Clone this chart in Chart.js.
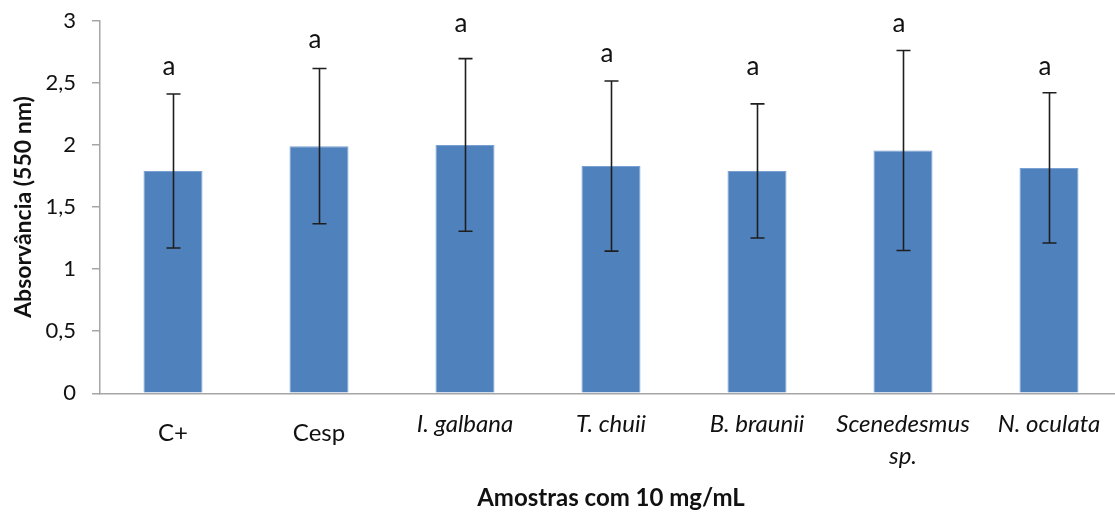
<!DOCTYPE html>
<html>
<head>
<meta charset="utf-8">
<script src="https://cdn.jsdelivr.net/npm/chart.js@4"></script>
<style>
  html, body { margin: 0; padding: 0; background: #fff; overflow: hidden; }
  canvas { display: block; }
</style>
</head>
<body>
<canvas id="chart" width="1122" height="514"></canvas>
<script>
// Sample groups (species names in italics from the third entry on)
const categories = ['C+', 'Cesp', 'I. galbana', 'T. chuii', 'B. braunii', ['Scenedesmus', 'sp.'], 'N. oculata'];
// Mean absorbance at 550 nm
const means = [1.79, 1.99, 2.00, 1.83, 1.79, 1.955, 1.815];
// Standard deviation (error bar half-length)
const sds = [0.62, 0.625, 0.695, 0.685, 0.54, 0.805, 0.605];
// Statistical group letters and the absorbance level they sit at
const letters = ['a', 'a', 'a', 'a', 'a', 'a', 'a'];
const letterAt = [2.62, 2.84, 2.965, 2.72, 2.62, 2.965, 2.62];
// Y axis ticks
const yTicks = [0, 0.5, 1, 1.5, 2, 2.5, 3];

const FONT = 'Lato';
const AXIS_GREY = '#a6a6a6';

const errorBarsAndLetters = {
  id: 'errorBarsAndLetters',
  afterDatasetsDraw(chart) {
    const { ctx, scales: { y } } = chart;
    const meta = chart.getDatasetMeta(0);
    ctx.save();
    meta.data.forEach((bar, i) => {
      const cx = Math.round(bar.x) + 0.5;
      const top = y.getPixelForValue(means[i] + sds[i]);
      const bot = y.getPixelForValue(means[i] - sds[i]);
      ctx.strokeStyle = '#1e1e1e';
      ctx.lineWidth = 1.6;
      ctx.beginPath();
      ctx.moveTo(cx, top); ctx.lineTo(cx, bot);
      ctx.moveTo(cx - 7, top); ctx.lineTo(cx + 7, top);
      ctx.moveTo(cx - 7, bot); ctx.lineTo(cx + 7, bot);
      ctx.stroke();

      ctx.fillStyle = '#111';
      ctx.font = '26px ' + FONT;
      ctx.textAlign = 'center';
      ctx.textBaseline = 'alphabetic';
      ctx.fillText(letters[i], bar.x - 4, y.getPixelForValue(letterAt[i]) + 7);
    });
    ctx.restore();
  }
};

new Chart(document.getElementById('chart'), {
  type: 'bar',
  data: {
    labels: categories,
    datasets: [{
      data: means,
      backgroundColor: '#4f81bd',
      borderColor: '#79a0d2',
      borderWidth: 1,
      barPercentage: 0.404,
      categoryPercentage: 1.0
    }]
  },
  options: {
    responsive: false,
    animation: false,
    layout: { padding: { top: 20.7, left: 0, right: 0, bottom: 0 } },
    plugins: { legend: { display: false }, tooltip: { enabled: false } },
    scales: {
      x: {
        grid: { display: false, drawTicks: false },
        border: { display: true, color: AXIS_GREY, width: 1.5 },
        ticks: {
          color: '#111',
          padding: 15.6,
          maxRotation: 0,
          autoSkip: false,
          // italic species names sit a little higher than the control labels
          font: (c) => c.index >= 2
            ? { family: FONT, size: 24, lineHeight: '31.7px', style: 'italic' }
            : { family: FONT, size: 24, lineHeight: '48.8px', style: 'normal' }
        },
        title: {
          display: true,
          text: 'Amostras com 10 mg/mL',
          color: '#111',
          font: { family: FONT, size: 24, weight: 'bold', lineHeight: 1.2 },
          padding: { top: 0, bottom: 1 }
        },
        afterFit(scale) { scale.height = 120.7; }
      },
      y: {
        min: 0,
        max: 3,
        afterBuildTicks(scale) { scale.ticks = yTicks.map(v => ({ value: v })); },
        grid: { display: true, drawOnChartArea: false, drawTicks: true, tickLength: 8, color: AXIS_GREY, lineWidth: 1.5 },
        border: { display: true, color: AXIS_GREY, width: 1.5 },
        ticks: {
          color: '#111',
          padding: 16,
          font: { family: FONT, size: 22 },
          callback: (v) => String(v).replace('.', ',')
        },
        title: {
          display: true,
          text: 'Absorvância (550 nm)',
          color: '#111',
          font: { family: FONT, size: 23, weight: 'bold', lineHeight: 1.2 },
          padding: { top: 9.6, bottom: 0 }
        },
        afterFit(scale) {
          scale.width = 100;
          // the outer layout padding already leaves room for the end labels
          scale.paddingTop = 0;
          scale.paddingBottom = 0;
        }
      }
    }
  },
  plugins: [errorBarsAndLetters]
});
</script>
</body>
</html>
